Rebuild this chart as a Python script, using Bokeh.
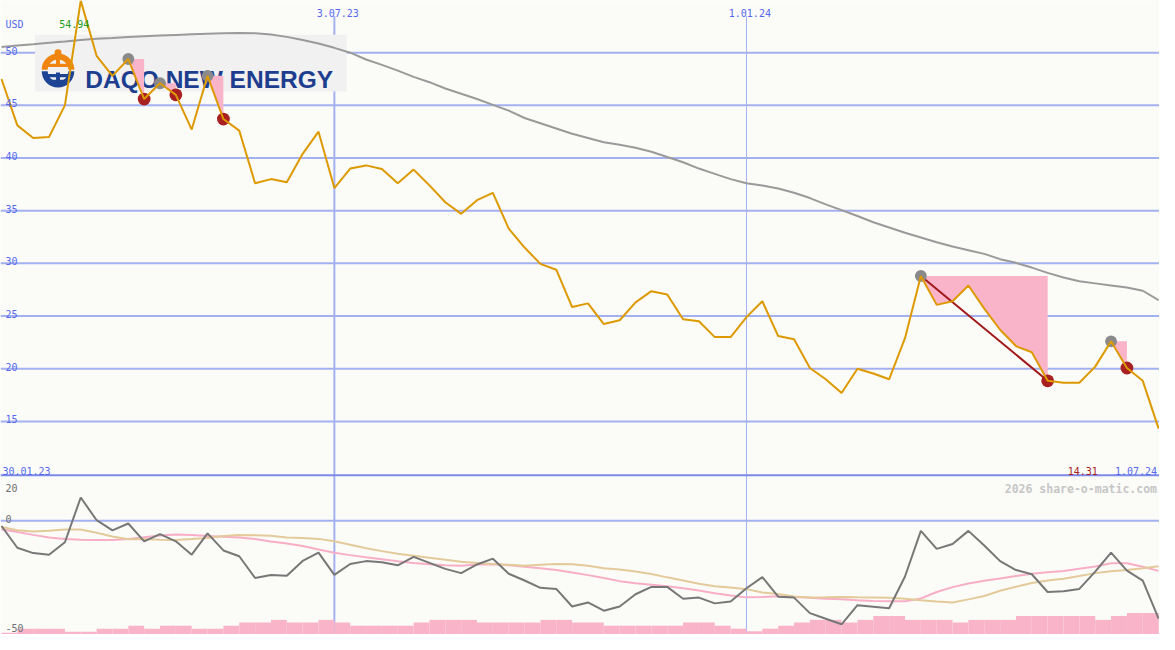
import numpy as np
import pandas as pd
from bokeh.plotting import figure
from bokeh.models import Range1d, Span
from bokeh.embed import file_html
from bokeh.resources import INLINE
from bokeh.core.properties import value

# ---------------- data (weekly) ----------------
week_start = "2023-02-06"
price = [47.5, 43.1, 41.9, 42.0, 45.0, 54.94, 49.7, 47.8, 49.4, 45.6,
         47.1, 46.0, 42.7, 47.8, 43.7, 42.6, 37.6, 38.0, 37.7, 40.4,
         42.5, 37.15, 39.0, 39.3, 38.96, 37.6, 38.9, 37.4, 35.8, 34.7,
         36.0, 36.7, 33.3, 31.5, 29.95, 29.4, 25.85, 26.2, 24.24, 24.6,
         26.3, 27.36, 27.05, 24.7, 24.5, 23.0, 23.0, 24.9, 26.4, 23.1,
         22.8, 20.07, 19.0, 17.7, 20.0, 19.55, 19.0, 22.9, 28.8, 26.06,
         26.4, 27.9, 25.7, 23.7, 22.15, 21.56, 18.85, 18.66, 18.66, 20.2,
         22.6, 20.07, 18.85, 14.31]
ma_long = [50.54, 50.69, 50.79, 50.94, 51.06, 51.2, 51.32, 51.39, 51.48, 51.55,
           51.62, 51.69, 51.74, 51.79, 51.84, 51.87, 51.84, 51.73, 51.5, 51.2,
           50.88, 50.46, 50.0, 49.35, 48.84, 48.3, 47.7, 47.2, 46.6, 46.1,
           45.6, 45.05, 44.5, 43.8, 43.3, 42.8, 42.3, 41.9, 41.5, 41.25,
           40.97, 40.6, 40.1, 39.6, 39.0, 38.5, 38.0, 37.6, 37.4, 37.1,
           36.7, 36.2, 35.6, 35.05, 34.5, 33.9, 33.4, 32.9, 32.45, 32.0,
           31.6, 31.25, 30.9, 30.4, 30.05, 29.6, 29.1, 28.66, 28.3, 28.1,
           27.9, 27.7, 27.4, 26.5]
rel = [-2.3, -12.1, -14.5, -15.2, -9.6, 10.5, 0.3, -4.3, -1.2, -9.2,
       -6.0, -9.2, -15.2, -5.6, -13.3, -15.9, -25.7, -24.3, -24.7, -18.0,
       -14.3, -24.3, -19.4, -18.1, -18.6, -20.0, -16.2, -18.9, -21.6, -23.5,
       -19.6, -17.0, -23.8, -26.8, -30.1, -30.6, -38.5, -36.7, -40.4, -38.5,
       -33.0, -29.7, -29.7, -35.0, -34.5, -37.1, -36.3, -30.3, -25.3, -34.1,
       -34.5, -41.5, -44.0, -46.5, -37.9, -38.6, -39.3, -25.0, -4.5, -12.6,
       -10.4, -4.5, -11.1, -18.1, -22.1, -24.0, -32.0, -31.6, -30.6, -22.8,
       -14.3, -22.4, -26.9, -44.0]
rel_slow = [-2.8, -4.2, -4.8, -4.4, -3.9, -3.9, -5.3, -7.0, -8.3, -8.2,
            -8.5, -8.6, -8.2, -7.7, -6.8, -6.4, -6.5, -6.7, -7.5, -7.7,
            -8.1, -9.2, -10.7, -12.3, -13.6, -14.8, -15.7, -16.6, -17.5, -18.4,
            -18.9, -19.4, -19.7, -20.2, -19.7, -19.4, -19.5, -20.2, -21.3, -21.9,
            -22.8, -23.9, -25.4, -26.8, -28.3, -29.4, -30.0, -30.7, -32.2, -32.9,
            -34.0, -34.5, -34.4, -34.2, -34.4, -34.5, -34.6, -35.0, -35.7, -36.3,
            -36.7, -35.3, -33.8, -31.4, -29.6, -27.9, -26.8, -26.0, -24.8, -23.5,
            -22.7, -22.1, -21.3, -20.4]
rel_fast = [-3.8, -5.0, -6.3, -7.5, -8.2, -8.5, -8.6, -8.6, -8.1, -7.4,
            -6.6, -6.1, -6.3, -6.8, -7.1, -7.5, -8.2, -9.3, -10.2, -11.3,
            -12.9, -14.3, -15.4, -16.4, -17.3, -18.2, -18.9, -19.5, -19.96, -20.2,
            -19.6, -19.5, -20.0, -20.6, -21.3, -22.1, -23.2, -24.4, -25.7, -27.1,
            -28.1, -28.7, -29.4, -30.3, -31.3, -32.5, -33.6, -34.4, -34.2, -33.9,
            -34.2, -34.6, -35.0, -35.3, -35.7, -36.0, -36.2, -36.2, -34.9, -32.0,
            -29.8, -28.2, -26.9, -25.9, -24.8, -23.8, -23.1, -22.5, -21.5, -20.5,
            -19.1, -19.1, -20.6, -22.5]
volume = [1.7, 6, 6, 6, 2.7, 2.7, 6, 6, 9, 6,
          9, 9, 6, 6, 9, 12.3, 12.3, 15, 12.3, 12.3,
          15, 12.3, 9, 9, 9, 9, 12.3, 15, 15, 15,
          12.3, 12.3, 12.3, 12.3, 15, 15, 12.3, 12.3, 9, 9,
          9, 9, 9, 12.3, 12.3, 9, 6, 3.3, 6, 9,
          12.3, 15, 15, 12.3, 15, 19, 19, 15, 15, 15,
          12.3, 15, 15, 15, 19, 19, 19, 19, 19, 15,
          19, 22, 22, 22]
dd_peaks = [8, 10, 13, 58, 70]
dd_troughs = [9, 11, 14, 66, 71]
price_ticks = [15, 20, 25, 30, 35, 40, 45, 50]
price_tick_labels = ["15", "20", "25", "30", "35", "40", "45", "50"]
lower_ticks = [20, 0, -50]
lower_tick_labels = ["20", "0", "-50"]
vline_dates = ["2023-07-03", "2024-01-01"]
vline_labels = ["3.07.23", "1.01.24"]
period_labels = ["30.01.23", "1.07.24"]
currency = "USD"
max_label = "54.94"
last_label = "14.31"

# ---------------- geometry ----------------
W, H = 1159, 634
REF_W, REF_H = 1175.0, 650.0
WEEK = 7 * 86400000.0
X0_PX, STEP_PX = 1.0, 16.07

dates = pd.date_range(week_start, periods=len(price), freq="7D")
xs = dates.asi8 / 1e6
t0 = xs[0]
x_lo = t0 - X0_PX / STEP_PX * WEEK
x_hi = t0 + (REF_W - X0_PX) / STEP_PX * WEEK

y_hi = 50 + 53.5 / 10.8
y_lo = 50 - (REF_H - 53.5) / 10.8
l_hi = 533.5 / 2.28
l_lo = -(REF_H - 533.5) / 2.28


def X(px):
    return x_lo + px / REF_W * (x_hi - x_lo)


def Y(py):
    return y_hi - py / REF_H * (y_hi - y_lo)


def L(py):
    return l_hi - py / REF_H * (l_hi - l_lo)


S = W / REF_W

BG = "#fbfcf8"
GRID = "#a4b1f0"
BLUE_TXT = "#5568ee"
PINK = "#f9b4ca"
MONO = value("DejaVu Sans Mono")

p = figure(width=W, height=H, x_range=Range1d(x_lo, x_hi), y_range=Range1d(y_lo, y_hi),
           output_backend="svg", toolbar_location=None,
           x_axis_location=None, y_axis_location=None, min_border=0,
           background_fill_color=BG, border_fill_color=BG, outline_line_color=None)
p.extra_y_ranges = {"lower": Range1d(l_lo, l_hi), "vol": Range1d(0, REF_H)}
p.grid.visible = False

# grid lines
for v in price_ticks:
    p.add_layout(Span(location=v, dimension="width", line_color=GRID, line_width=2, level="underlay"))
p.add_layout(Span(location=0, dimension="width", line_color=GRID, line_width=2,
                  level="underlay", y_range_name="lower"))
p.add_layout(Span(location=Y(486.7), dimension="width", line_color="#7a89ea", line_width=2,
                  level="underlay"))
vx = pd.to_datetime(vline_dates).asi8 / 1e6
p.segment(x0=[vx[0]], y0=[Y(16)], x1=[vx[0]], y1=[y_lo], line_color=GRID, line_width=2, level="underlay")
p.segment(x0=[vx[1]], y0=[Y(16)], x1=[vx[1]], y1=[y_lo], line_color=GRID, line_width=1, level="underlay")

# logo
p.quad(left=[X(35)], right=[X(351)], top=[Y(35)], bottom=[Y(93.3)], fill_color="#f1f1f1", line_color=None)
ORANGE, NAVY = "#f0860f", "#1d4494"
cx, cy = X(58.3), Y(71.0)
p.annular_wedge(x=[cx], y=[cy], inner_radius=10.5 * S, outer_radius=16.5 * S,
                inner_radius_units="screen", outer_radius_units="screen",
                start_angle=0.0, end_angle=np.pi, fill_color=ORANGE, line_color=None)
p.annular_wedge(x=[cx], y=[Y(72.5)], inner_radius=10.5 * S, outer_radius=16.5 * S,
                inner_radius_units="screen", outer_radius_units="screen",
                start_angle=np.pi, end_angle=2 * np.pi, fill_color=NAVY, line_color=None)
p.rect(x=[cx], y=[Y(61)], width=4 * S, height=14 * S, width_units="screen", height_units="screen",
       fill_color=ORANGE, line_color=None)
p.scatter(x=[cx], y=[Y(53.5)], size=7 * S, fill_color=ORANGE, line_color=None)
p.rect(x=[cx], y=[Y(66.5)], width=30 * S, height=3.5 * S, width_units="screen", height_units="screen",
       fill_color=ORANGE, line_color=None)
p.rect(x=[cx], y=[Y(77)], width=24 * S, height=3.5 * S, width_units="screen", height_units="screen",
       fill_color=NAVY, line_color=None)
p.rect(x=[cx], y=[Y(83)], width=18 * S, height=3.5 * S, width_units="screen", height_units="screen",
       fill_color=NAVY, line_color=None)
p.rect(x=[cx], y=[Y(80)], width=4 * S, height=12 * S, width_units="screen", height_units="screen",
       fill_color=NAVY, line_color=None)
p.text(x=[X(86)], y=[Y(81)], text=["DAQO NEW ENERGY"], text_font=value("Liberation Sans"),
       text_font_size="24.5px", text_font_style="bold", text_color="#1d3e8f",
       text_baseline="alphabetic", text_align="left")

# drawdown fills
pr = np.array(price)
for a, b in zip(dd_peaks, dd_troughs):
    p.varea(x=xs[a:b + 1], y1=pr[a:b + 1], y2=np.full(b - a + 1, pr[a]), fill_color=PINK)
depth = [(pr[a] - pr[b]) / pr[a] for a, b in zip(dd_peaks, dd_troughs)]
k = int(np.argmax(depth))
p.line(x=[xs[dd_peaks[k]], xs[dd_troughs[k]]], y=[pr[dd_peaks[k]], pr[dd_troughs[k]]],
       line_color="#a01818", line_width=2)
p.scatter(x=xs[dd_peaks], y=pr[dd_peaks], size=12 * S, fill_color="#8a8a8a", line_color=None)
p.scatter(x=xs[dd_troughs], y=pr[dd_troughs], size=13 * S, fill_color="#a82020", line_color=None)

# main lines
p.line(x=xs, y=ma_long, line_color="#9a9a9a", line_width=2)
p.line(x=xs, y=price, line_color="#dd9900", line_width=2)

# lower panel
p.quad(left=xs, right=xs + WEEK, bottom=0, top=volume, fill_color=PINK, line_color=None,
       y_range_name="vol")
p.line(x=xs, y=rel_fast, line_color="#f8aec6", line_width=2, y_range_name="lower")
p.line(x=xs, y=rel_slow, line_color="#e3ca9a", line_width=2, y_range_name="lower")
p.line(x=xs, y=rel, line_color="#777777", line_width=2, y_range_name="lower")

# texts
FS = "10px"
p.text(x=[X(5)] * len(price_ticks), y=[v + 2 / 10.8 for v in price_ticks], text=price_tick_labels,
       text_font=MONO, text_font_size=FS, text_color=BLUE_TXT, text_baseline="alphabetic")
p.text(x=[X(5)], y=[Y(24.6)], text=[currency], text_font=MONO, text_font_size=FS,
       text_color=BLUE_TXT, text_baseline="alphabetic")
p.text(x=[X(59.5)], y=[Y(24.6)], text=[max_label], text_font=MONO, text_font_size=FS,
       text_color="#1f9a1f", text_baseline="alphabetic")
p.text(x=list(vx + 3.4 / REF_W * (x_hi - x_lo)), y=[Y(13.3)] * 2, text=vline_labels, text_font=MONO,
       text_font_size=FS, text_color=BLUE_TXT, text_baseline="alphabetic", text_align="center")
p.text(x=[X(2)], y=[Y(482.5)], text=[period_labels[0]], text_font=MONO, text_font_size=FS,
       text_color=BLUE_TXT, text_baseline="alphabetic")
p.text(x=[X(1172.5)], y=[Y(482.5)], text=[period_labels[1]], text_font=MONO, text_font_size=FS,
       text_color=BLUE_TXT, text_baseline="alphabetic", text_align="right")
p.text(x=[X(1082)], y=[Y(482.5)], text=[last_label], text_font=MONO, text_font_size=FS,
       text_color="#a81c1c", text_baseline="alphabetic")
p.text(x=[X(1172.5)], y=[Y(500.5)], text=["2026 share-o-matic.com"], text_font=MONO,
       text_font_size="11.5px", text_font_style="bold", text_color="#c6c6c6",
       text_baseline="alphabetic", text_align="right")
p.text(x=[X(5)] * 3, y=[L(500), L(532), L(643)], text=lower_tick_labels, text_font=MONO,
       text_font_size=FS, text_color="#6e6e6e", text_baseline="alphabetic", y_range_name="lower")

open("out.html", "w").write(file_html(p, INLINE))
